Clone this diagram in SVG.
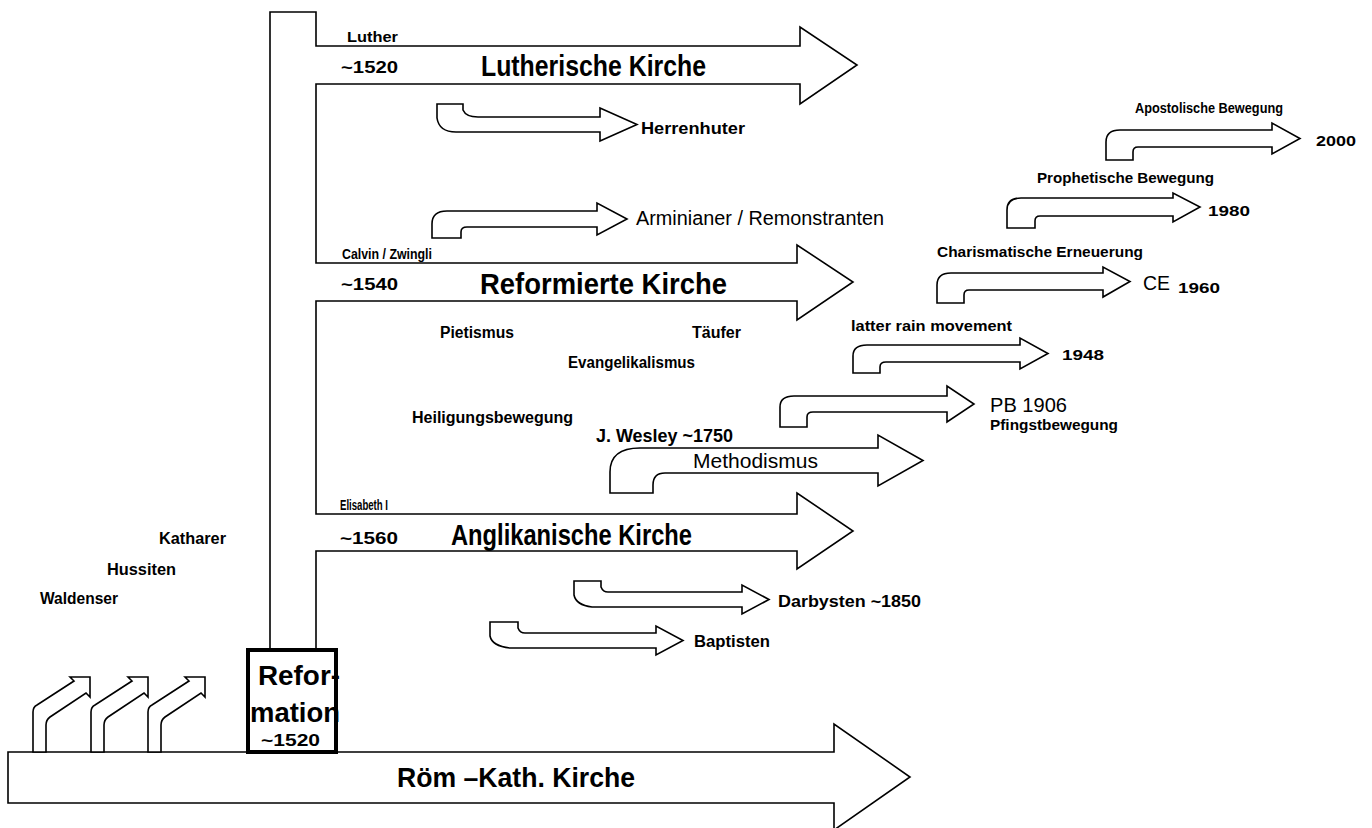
<svg xmlns="http://www.w3.org/2000/svg" xmlns:xlink="http://www.w3.org/1999/xlink" width="1372" height="828" viewBox="0 0 1372 828">
<style>
.sh{fill:#fff;stroke:#000;stroke-width:1.6;stroke-linejoin:miter}
.ln{fill:none;stroke:#000;stroke-width:1.6}
text{font-family:"Liberation Sans",Arial,sans-serif;fill:#000}
.b{font-weight:bold}
.n{font-weight:normal}
</style>
<defs>
<path id="bent" class="sh" d="M33,752 V712 Q33,707 37,705 L74,681 L70,677 H90 V697 L86,693 L50,717 Q46,720 46,725 V752 Z"/>
</defs>
<rect width="1372" height="828" fill="#fff"/>

<g id="roemkath">
<path class="sh" d="M8,752 H834 V724 L910,777 L834,830 V803 H8 Z"/>
<text class="b" x="397" y="787" font-size="28" textLength="238" lengthAdjust="spacingAndGlyphs">Röm –Kath. Kirche</text>
</g>

<g id="trunk">
<path class="sh" d="M270,650 V12 H316 V46 H800 V27 L857,65 L800,104 V84 H316 V263 H797 V245 L853,282 L797,320 V301 H316 V514 H797 V493 L853,531 L797,569 V551 H316 V650 Z"/>
</g>

<g id="lutherisch">
<text class="b" x="347" y="42" font-size="15" textLength="51" lengthAdjust="spacingAndGlyphs">Luther</text>
<text class="b" x="341" y="73" font-size="16" textLength="57" lengthAdjust="spacingAndGlyphs">~1520</text>
<text class="b" x="481" y="76" font-size="30" textLength="225" lengthAdjust="spacingAndGlyphs">Lutherische Kirche</text>
</g>

<g id="reformiert">
<text class="b" x="342" y="259" font-size="14" textLength="90" lengthAdjust="spacingAndGlyphs">Calvin / Zwingli</text>
<text class="b" x="341" y="290" font-size="16" textLength="57" lengthAdjust="spacingAndGlyphs">~1540</text>
<text class="b" x="480" y="294" font-size="30" textLength="247" lengthAdjust="spacingAndGlyphs">Reformierte Kirche</text>
</g>

<g id="anglikanisch">
<text class="b" x="340" y="510" font-size="14" textLength="48" lengthAdjust="spacingAndGlyphs">Elisabeth I</text>
<text class="b" x="340" y="544" font-size="16" textLength="58" lengthAdjust="spacingAndGlyphs">~1560</text>
<text class="b" x="451" y="545" font-size="30" textLength="241" lengthAdjust="spacingAndGlyphs">Anglikanische Kirche</text>
</g>

<g id="reformation">
<rect x="248" y="650" width="88" height="102" fill="#fff" stroke="#000" stroke-width="4"/>
<text class="b" x="258" y="685" font-size="27" textLength="82" lengthAdjust="spacingAndGlyphs">Refor-</text>
<text class="b" x="250" y="722" font-size="27" textLength="90" lengthAdjust="spacingAndGlyphs">mation</text>
<text class="b" x="261" y="746" font-size="16" textLength="59" lengthAdjust="spacingAndGlyphs">~1520</text>
</g>

<g id="connectors">
<use xlink:href="#bent" href="#bent"/>
<use xlink:href="#bent" href="#bent" x="58"/>
<use xlink:href="#bent" href="#bent" x="115"/>
<path id="a-herrenhuter" class="sh" d="M437,104 H463 V110 Q466,117 478,117 H600 V108 L637,124.5 L600,141 V132 H456 Q439,132 437,118 Z"/>
<path id="a-arminianer" class="sh" d="M432,238 V224 Q432,211 447,211 H597 V203 L627,219 L597,235 V227 H467 Q461,227 461,232 V238 Z"/>
<path id="a-darbysten" class="sh" d="M574,581 H601 V587 Q603,592 608,592 H742 V585 L769,599.5 L742,614 V607 H592 Q576,605 574,595 Z"/>
<path id="a-baptisten" class="sh" d="M490,622 H518 V628 Q520,633 525,633 H656 V626 L683,640.5 L656,655 V648 H510 Q492,646 490,636 Z"/>
<path id="a-methodismus" class="sh" d="M610,493 V472 Q610,448 640,448 H878 V435 L923,460.5 L878,486 V473 H665 Q653,473 653,485 V493 Z"/>
<path id="a-pb" class="sh" d="M780,427 V407 Q780,396 794,396 H947 V386 L974,404 L947,422 V412 H813 Q807,412 807,417 V427 Z"/>
<path id="a-latter" class="sh" d="M853,373 V356 Q853,345 867,345 H1020 V338 L1048,353.5 L1020,369 V362 H886 Q880,362 880,367 V373 Z"/>
<path id="a-ce" class="sh" d="M937,303 V285 Q937,273 951,273 H1103 V267 L1130,281.5 L1103,297 V290 H969 Q964,290 964,295 V303 Z"/>
<path id="a-prophet" class="sh" d="M1007,228 V210 Q1007,198 1021,198 H1173 V193 L1200,207 L1173,222 V216 H1040 Q1035,216 1035,221 V228 Z"/>
<path id="a-apostel" class="sh" d="M1106,160 V142 Q1106,130 1120,130 H1272 V123 L1300,138.5 L1272,154 V147 H1138 Q1133,147 1133,152 V160 Z"/>
</g>

<g id="vorlaeufer">
<text class="b" x="159" y="544" font-size="16" textLength="67" lengthAdjust="spacingAndGlyphs">Katharer</text>
<text class="b" x="107" y="575" font-size="16" textLength="69" lengthAdjust="spacingAndGlyphs">Hussiten</text>
<text class="b" x="40" y="604" font-size="16" textLength="78" lengthAdjust="spacingAndGlyphs">Waldenser</text>
</g>

<g id="herrenhuter">
<text class="b" x="641" y="134" font-size="16" textLength="104" lengthAdjust="spacingAndGlyphs">Herrenhuter</text>
</g>

<g id="arminianer">
<text class="n" x="636" y="225" font-size="20" textLength="248" lengthAdjust="spacingAndGlyphs">Arminianer / Remonstranten</text>
</g>

<g id="bewegungen">
<text class="b" x="440" y="338" font-size="16" textLength="74" lengthAdjust="spacingAndGlyphs">Pietismus</text>
<text class="b" x="692" y="338" font-size="16" textLength="49" lengthAdjust="spacingAndGlyphs">Täufer</text>
<text class="b" x="568" y="368" font-size="16" textLength="127" lengthAdjust="spacingAndGlyphs">Evangelikalismus</text>
<text class="b" x="412" y="423" font-size="16" textLength="161" lengthAdjust="spacingAndGlyphs">Heiligungsbewegung</text>
</g>

<g id="methodismus">
<text class="b" x="596" y="442" font-size="18" textLength="137" lengthAdjust="spacingAndGlyphs">J. Wesley ~1750</text>
<text class="n" x="693" y="468" font-size="20" textLength="125" lengthAdjust="spacingAndGlyphs">Methodismus</text>
</g>

<g id="pfingst">
<text class="n" x="990" y="412" font-size="20" textLength="77" lengthAdjust="spacingAndGlyphs">PB 1906</text>
<text class="b" x="990" y="430" font-size="14" textLength="128" lengthAdjust="spacingAndGlyphs">Pfingstbewegung</text>
</g>

<g id="latterrain">
<text class="b" x="851" y="331" font-size="15" textLength="161" lengthAdjust="spacingAndGlyphs">latter rain movement</text>
<text class="b" x="1062" y="360" font-size="15" textLength="42" lengthAdjust="spacingAndGlyphs">1948</text>
</g>

<g id="charismatisch">
<text class="b" x="937" y="257" font-size="15" textLength="206" lengthAdjust="spacingAndGlyphs">Charismatische Erneuerung</text>
<text class="n" x="1143" y="290" font-size="21" textLength="27" lengthAdjust="spacingAndGlyphs">CE</text>
<text class="b" x="1178" y="293" font-size="15" textLength="42" lengthAdjust="spacingAndGlyphs">1960</text>
</g>

<g id="prophetisch">
<text class="b" x="1037" y="183" font-size="15" textLength="177" lengthAdjust="spacingAndGlyphs">Prophetische Bewegung</text>
<text class="b" x="1208" y="216" font-size="15" textLength="42" lengthAdjust="spacingAndGlyphs">1980</text>
</g>

<g id="apostolisch">
<text class="b" x="1135" y="113" font-size="15" textLength="148" lengthAdjust="spacingAndGlyphs">Apostolische Bewegung</text>
<text class="b" x="1316" y="146" font-size="15" textLength="40" lengthAdjust="spacingAndGlyphs">2000</text>
</g>

<g id="darbysten">
<text class="b" x="778" y="607" font-size="17" textLength="143" lengthAdjust="spacingAndGlyphs">Darbysten ~1850</text>
</g>

<g id="baptisten">
<text class="b" x="694" y="647" font-size="16" textLength="76" lengthAdjust="spacingAndGlyphs">Baptisten</text>
</g>
</svg>
